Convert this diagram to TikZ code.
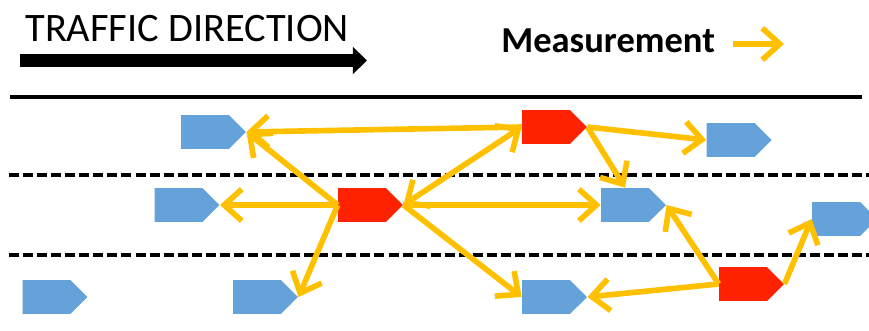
\documentclass[tikz,border=0pt]{standalone}
\usepackage{fontspec}
\setmainfont{Carlito}
\usepackage{xcolor}
\usetikzlibrary{shapes.symbols,arrows.meta,positioning,calc}
\definecolor{carblue}{HTML}{65A2DA}
\definecolor{carred}{HTML}{FF2200}
\definecolor{measyellow}{HTML}{FFC000}

\begin{document}
\begin{tikzpicture}[x=0.02cm,y=-0.02cm,
            car/.style={signal, signal to=east, signal from=nowhere, draw=none, fill=#1, minimum width=1.3cm, minimum height=0.68cm, inner sep=0pt},
            meas/.style={measyellow, line width=3.2pt, -{Straight Barb[length=10pt,width=18pt]}},
            lane/.style={line width=2.2pt, dash pattern=on 5.7pt off 2.3pt}]

            \useasboundingbox (0,0) rectangle (869,331);

            % Legend
            \node[anchor=base west, font=\fontsize{23}{27}\selectfont, inner sep=0pt] (traffic) at (25,42) {TRAFFIC DIRECTION};
            \coordinate (dirstart) at (20,60.5);
            \coordinate (dirend) at (367,60.5);
            \draw[line width=7.4pt, -{Triangle[length=8pt,width=15pt]}] (dirstart) -- (dirend);
            \node[anchor=base west, font=\fontsize{20.8}{24}\selectfont\bfseries, inner sep=0pt] (measure) at (501,53) {Measurement};
            \coordinate (legstart) at (733,44);
            \coordinate (legend) at (784,44);
            \draw[meas] (legstart) -- (legend);

            % Road
            \coordinate (edgeL) at (10,97);
            \coordinate (edgeR) at (862,97);
            \draw[line width=2pt] (edgeL) -- (edgeR);
            \coordinate (laneAL) at (9,175);
            \coordinate (laneAR) at (869,175);
            \coordinate (laneBL) at (9,255);
            \coordinate (laneBR) at (869,255);
            \draw[lane] (laneAL) -- (laneAR);
            \draw[lane] (laneBL) -- (laneBR);

            % Vehicles
            \node[car=carblue] (B1) at (205,132) {};
            \node[car=carred] (R1) at (546,127) {};
            \node[car=carblue] (B2) at (730.5,140) {};
            \node[car=carblue] (B3) at (178.5,205) {};
            \node[car=carred] (R2) at (362,205) {};
            \node[car=carblue] (B4) at (625,205) {};
            \node[car=carblue] (B5) at (836,219) {};
            \node[car=carblue] (B6) at (46.5,297) {};
            \node[car=carblue] (B7) at (257,297) {};
            \node[car=carblue] (B8) at (546,297) {};
            \node[car=carred] (R3) at (743,284) {};

            % Measurements
            \draw[meas] (R1.west) -- (B1.east);
            \draw[meas] (R2.west) -- (B1.east);
            \draw[meas] (R2.west) -- (B3.east);
            \draw[meas] (R2.west) -- (B7.east);
            \draw[meas, {Straight Barb[length=10pt,width=18pt]}-{Straight Barb[length=10pt,width=18pt]}] (R2.east) -- (R1.west);
            \draw[meas] (R2.east) -- (B4.west);
            \draw[meas] (R2.east) -- (B8.west);
            \draw[meas] (R1.east) -- (B2.west);
            \draw[meas] (R1.east) -- (B4.north);
            \draw[meas] (R3.west) -- (B4.east);
            \draw[meas] (R3.west) -- (B8.east);
            \draw[meas] (R3.east) -- (B5.west);
        \end{tikzpicture}
\end{document}
